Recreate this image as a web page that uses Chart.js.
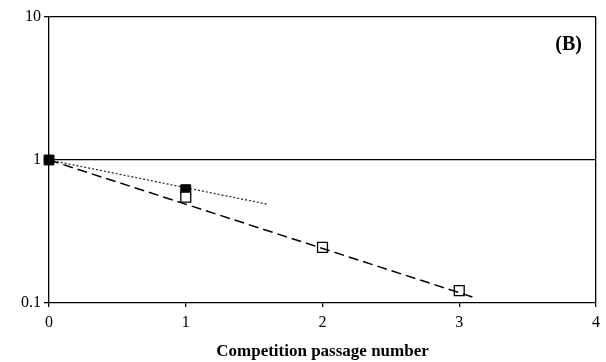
<!DOCTYPE html>
<html>
<head>
<meta charset="utf-8">
<script src="https://cdn.jsdelivr.net/npm/chart.js@4"></script>
<style>
  html, body { margin: 0; padding: 0; background: #fff; }
  #wrap { width: 606px; height: 362px; }
</style>
</head>
<body>
<div id="wrap"><canvas id="chart"></canvas></div>
<script>
// ---- DATA ----
const filledX = [0, 1];
const filledY = [1, 0.62];
const openX = [1, 2, 3];
const openY = [0.55, 0.245, 0.122];
const dottedX = [0, 1.6];
const dottedY = [1, 0.49];
const dashedX = [0, 3.1];
const dashedY = [1, 0.11];
const xTicks = [0, 1, 2, 3, 4];
const yTicks = [0.1, 1, 10];

const toPoints = (xs, ys) => xs.map((x, i) => ({ x: x, y: ys[i] }));

// ---- PANEL LABEL ----
const panelLabel = {
  id: 'panelLabel',
  afterDraw(chart) {
    const { ctx, chartArea } = chart;
    ctx.save();
    ctx.font = 'bold 20px "Liberation Serif"';
    ctx.fillStyle = '#000';
    ctx.textAlign = 'right';
    ctx.textBaseline = 'middle';
    ctx.fillText('(B)', chartArea.right - 14, chartArea.top + 28);
    ctx.restore();
  }
};

new Chart(document.getElementById('chart'), {
  type: 'scatter',
  data: {
    datasets: [
      {
        label: 'dashed trend',
        data: toPoints(dashedX, dashedY),
        showLine: true,
        borderColor: '#000',
        borderWidth: 1.5,
        borderDash: [10, 5],
        pointRadius: 0
      },
      {
        label: 'dotted trend',
        data: toPoints(dottedX, dottedY),
        showLine: true,
        borderColor: '#222',
        borderWidth: 1.2,
        borderDash: [2, 2],
        pointRadius: 0
      },
      {
        label: 'open',
        data: toPoints(openX, openY),
        clip: false,
        pointStyle: 'rect',
        pointRadius: 7,
        pointBackgroundColor: '#fff',
        pointBorderColor: '#000',
        pointBorderWidth: 1.3
      },
      {
        label: 'filled',
        data: toPoints(filledX, filledY),
        clip: false,
        pointStyle: 'rect',
        pointRadius: 7,
        pointBackgroundColor: '#000',
        pointBorderColor: '#000',
        pointBorderWidth: 1
      }
    ]
  },
  options: {
    responsive: true,
    maintainAspectRatio: false,
    animation: false,
    layout: { padding: { top: 17, right: 10, left: 0, bottom: 0 } },
    plugins: {
      legend: { display: false },
      tooltip: { enabled: false }
    },
    scales: {
      x: {
        type: 'linear',
        min: 0,
        max: 4,
        afterBuildTicks: (axis) => { axis.ticks = xTicks.map(v => ({ value: v })); },
        afterFit: (axis) => { axis.height = 59; },
        border: { color: '#000', width: 1.3 },
        grid: {
          color: (c) => c.tick && c.tick.value === 4 ? '#000' : 'rgba(0,0,0,0)',
          tickColor: '#000',
          tickLength: 4,
          lineWidth: 1.3
        },
        ticks: {
          color: '#000',
          padding: 6,
          font: { family: '"Liberation Serif"', size: 16 }
        },
        title: {
          display: true,
          text: 'Competition passage number',
          color: '#000',
          padding: { top: 5, bottom: 0 },
          font: { family: '"Liberation Serif"', size: 17, weight: 'bold' }
        }
      },
      y: {
        type: 'logarithmic',
        min: 0.1,
        max: 10,
        afterBuildTicks: (axis) => { axis.ticks = yTicks.map(v => ({ value: v })); },
        afterFit: (axis) => { axis.width = 49; },
        border: { color: '#000', width: 1.3 },
        grid: {
          color: (c) => c.tick && (c.tick.value === 1 || c.tick.value === 10) ? '#000' : 'rgba(0,0,0,0)',
          tickColor: '#000',
          tickLength: 5,
          lineWidth: 1.3
        },
        ticks: {
          color: '#000',
          padding: 3,
          font: { family: '"Liberation Serif"', size: 16 },
          callback: (v) => String(v)
        }
      }
    }
  },
  plugins: [panelLabel]
});
</script>
</body>
</html>
